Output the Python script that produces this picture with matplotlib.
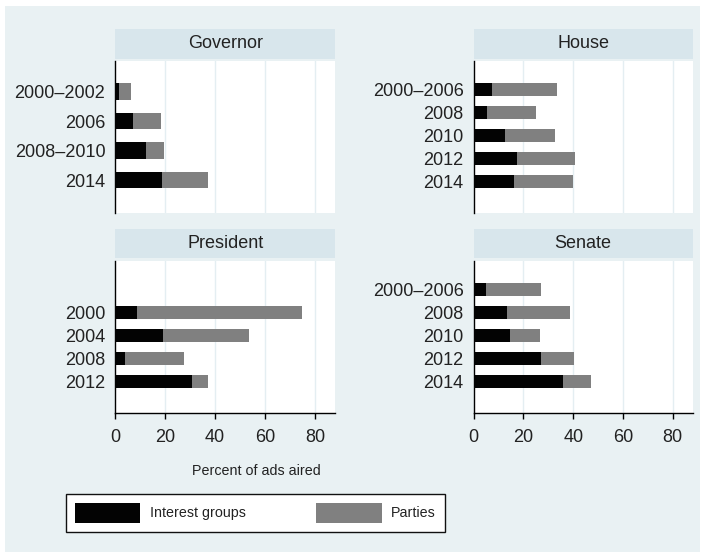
import matplotlib
matplotlib.use("Agg")
import matplotlib.pyplot as plt
from matplotlib.patches import Rectangle, Patch

plt.rcParams['font.family'] = ['Liberation Sans', 'DejaVu Sans']

# Share of ads aired, by race and cycle (stacked: interest groups, then parties)
governor_years = ["2000\u20132002", "2006", "2008\u20132010", "2014"]
governor_groups = [1.5, 7.1, 12.1, 18.6]
governor_total = [6.3, 18.5, 19.4, 37.1]

house_years = ["2000\u20132006", "2008", "2010", "2012", "2014"]
house_groups = [7.4, 5.4, 12.4, 17.5, 16.0]
house_total = [33.6, 24.9, 32.5, 40.6, 40.1]

president_years = ["2000", "2004", "2008", "2012"]
president_groups = [8.6, 19.2, 3.9, 30.8]
president_total = [74.7, 53.5, 27.6, 37.2]

senate_years = ["2000\u20132006", "2008", "2010", "2012", "2014"]
senate_groups = [4.8, 13.4, 14.5, 27.2, 35.8]
senate_total = [27.0, 38.6, 26.5, 40.2, 47.3]

x_ticks = [0, 20, 40, 60, 80]
legend_labels = ["Interest groups", "Parties"]

BG = "#e9f1f3"
STRIP = "#d8e6ec"
GRID = "#e4eef2"
BLACK = "#030303"
GRAY = "#808080"

W, H = 702, 552
fig = plt.figure(figsize=(W / 100, H / 100), dpi=100, facecolor="white")
fig.patches.append(Rectangle((5 / W, 0), 695 / W, 546 / H, transform=fig.transFigure,
                             facecolor=BG, edgecolor="none", zorder=-10))


def px_axes(x0, y0, x1, y1):
    return fig.add_axes([x0 / W, 1 - y1 / H, (x1 - x0) / W, (y1 - y0) / H])


panels = [
    ("Governor", governor_years, governor_groups, governor_total, 0, (115.3, 335.0), (29, 59, 61, 212.7), (4.11, -1.04), False),
    ("House", house_years, house_groups, house_total, 0, (473.7, 692.7), (29, 59, 61, 212.7), (5.34, -1.22), False),
    ("President", president_years, president_groups, president_total, 1, (115.3, 335.0), (229, 258.3, 260.7, 412.7), (5.35, -1.26), True),
    ("Senate", senate_years, senate_groups, senate_total, 0, (473.7, 692.7), (229, 258.3, 260.7, 412.7), (5.35, -1.26), True),
]

for title, years, groups, total, offset, (xa, xb), (hy0, hy1, py0, py1), ylim, bottom in panels:
    # header strip
    hax = px_axes(xa, hy0, xb, hy1)
    hax.set_facecolor(STRIP)
    hax.set_xticks([])
    hax.set_yticks([])
    for s in hax.spines.values():
        s.set_visible(False)
    hax.text(0.5, 0.5, title, ha="center", va="center", fontsize=13, color="#222222",
             transform=hax.transAxes)

    ax = px_axes(xa, py0, xb, py1)
    ax.set_facecolor("white")
    pos = [i + offset for i in range(len(years))]
    parties = [t - g for g, t in zip(groups, total)]
    ax.barh(pos, groups, height=0.56, color=BLACK, zorder=3)
    ax.barh(pos, parties, left=groups, height=0.56, color=GRAY, zorder=3)
    ax.set_xlim(0, 88)
    ax.set_ylim(*ylim)
    ax.set_yticks(pos)
    ax.set_yticklabels(years, fontsize=13, color="#222222")
    ax.tick_params(axis="y", length=0, pad=7.2)
    ax.set_xticks(x_ticks)
    for xv in x_ticks[1:]:
        ax.axvline(xv, color=GRID, lw=1.0, zorder=1)
    for s in ("top", "right"):
        ax.spines[s].set_visible(False)
    ax.spines["left"].set_color("black")
    ax.spines["left"].set_linewidth(1.0)
    if bottom:
        ax.spines["bottom"].set_color("black")
        ax.spines["bottom"].set_linewidth(1.0)
        ax.tick_params(axis="x", length=4.3, width=1.0, pad=7.5, labelsize=13,
                       colors="black", labelcolor="#222222")
    else:
        ax.spines["bottom"].set_visible(False)
        ax.tick_params(axis="x", length=0, labelbottom=False)

fig.text(256 / W, 1 - 471 / H, "Percent of ads aired", ha="center", va="center",
         fontsize=10.3, color="#222222")

handles = [Patch(facecolor=BLACK, edgecolor="none"), Patch(facecolor=GRAY, edgecolor="none")]
leg = fig.legend(handles, legend_labels, loc="center", bbox_to_anchor=(255.3 / W, 1 - 512.8 / H),
                 ncol=2, fontsize=10.3, frameon=True, fancybox=False,
                 edgecolor="#111111", facecolor="white", framealpha=1, handlelength=4.6,
                 handleheight=1.75, handletextpad=0.67, columnspacing=4.9, borderpad=0.62,
                 borderaxespad=0)
leg.get_frame().set_linewidth(1.0)
for t in leg.get_texts():
    t.set_color("#222222")

fig.savefig("out.png", dpi=100, facecolor="white")
